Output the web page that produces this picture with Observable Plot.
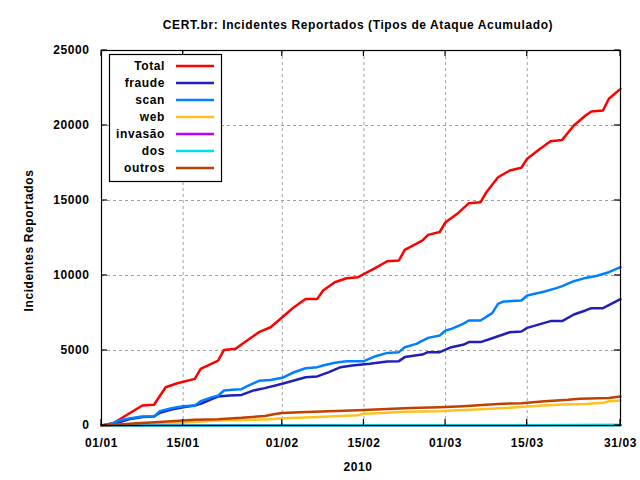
<!DOCTYPE html>
<html><head><meta charset="utf-8">
<script src="https://cdn.jsdelivr.net/npm/d3@7"></script>
<script src="https://cdn.jsdelivr.net/npm/@observablehq/plot@0.6"></script>
<style>body{margin:0;background:#fff} svg{display:block} svg text{letter-spacing:0.6px}</style>
</head><body><div id="chart"></div>
<script>
const titleText = "CERT.br: Incidentes Reportados (Tipos de Ataque Acumulado)";
const yLabel = "Incidentes Reportados";
const xLabel = "2010";
const seriesNames = ["Total", "fraude", "scan", "web", "invasão", "dos", "outros"];
const seriesColors = ["#ff0000", "#2020b8", "#0080ff", "#ffc020", "#c000ff", "#00e0e0", "#c04000"];

// days since 01/01/2010 and cumulative values
const totalDays   = [0,2,7,9,11,13,16,17,20,21,23,24,27,29,31,33,35,37,38,40,42,44,47,49,51,52,55,56,58,59,61,63,65,66,68,70,72,73,75,77,79,81,83,84,86,87,89];
const totalValues = [0,150,1330,1380,2550,2820,3110,3780,4330,5040,5110,5400,6220,6550,7220,7890,8440,8440,9000,9550,9820,9890,10510,10950,11000,11710,12330,12710,12900,13550,14110,14820,14890,15550,16550,17000,17180,17780,18380,18950,19040,20000,20670,20930,21000,21780,22440];

const fraudeDays   = [0,2,3,5,7,9,10,12,14,16,17,19,20,22,24,26,28,31,33,35,37,39,41,43,46,49,51,52,55,56,58,60,62,63,65,67,70,72,73,77,79,81,83,84,86,88,89];
const fraudeValues = [0,50,220,440,560,600,840,1070,1220,1330,1440,1780,1930,2000,2040,2330,2490,2780,3000,3220,3270,3560,3890,4000,4110,4270,4290,4560,4730,4890,4890,5220,5380,5560,5560,5820,6220,6270,6510,6960,6960,7400,7670,7820,7820,8220,8420];

const scanDays   = [0,2,3,5,7,9,10,12,14,16,17,19,20,21,23,24,25,27,29,31,33,35,37,38,40,42,45,47,49,51,52,54,56,58,59,60,62,63,65,67,68,69,72,73,76,78,79,81,83,85,87,89];
const scanValues = [0,150,330,490,600,600,950,1150,1290,1330,1620,1890,1980,2330,2400,2420,2620,2980,3040,3180,3550,3820,3890,4000,4180,4290,4290,4620,4840,4890,5220,5440,5840,6000,6330,6440,6780,7000,7000,7490,8110,8270,8330,8670,8930,9160,9290,9620,9840,9980,10220,10560];

const webDays   = [0,6,8,12,16,18,20,26,29,31,35,40,44,45,48,52,58,60,65,70,73,76,79,83,86,87,89];
const webValues = [0,60,110,150,240,290,330,380,420,480,530,620,690,780,840,910,950,1000,1090,1180,1270,1330,1400,1440,1510,1620,1670];

const invasaoDays   = [0,30,60,89];
const invasaoValues = [0,10,20,30];

const dosDays   = [0,45,89];
const dosValues = [0,10,20];

const outrosDays   = [0,3,6,10,14,16,20,24,28,30,31,34,39,44,48,53,58,62,66,68,72,76,80,82,87,89];
const outrosValues = [0,60,150,240,330,380,420,510,640,780,840,890,950,1020,1090,1160,1220,1290,1380,1440,1490,1620,1710,1780,1840,1930];

const xTickLabels = ["01/01","15/01","01/02","15/02","01/03","15/03","31/03"];
const yTicks = [0,5000,10000,15000,20000,25000];

const start = Date.UTC(2010,0,1);
const dayToDate = d => new Date(start + d*864e5);
const parseTick = s => new Date(Date.UTC(2010, +s.slice(3,5)-1, +s.slice(0,2)));
const xTicks = xTickLabels.map(parseTick);

const seriesData = [
  [totalDays,totalValues],[fraudeDays,fraudeValues],[scanDays,scanValues],
  [webDays,webValues],[invasaoDays,invasaoValues],[dosDays,dosValues],[outrosDays,outrosValues]
];
const rows = [];
seriesData.forEach(([ds,vs],i) => ds.forEach((d,j) => rows.push({series: seriesNames[i], date: dayToDate(d), value: vs[j]})));

const font = "'Liberation Sans', Arial, sans-serif";
const plot = Plot.plot({
  width: 640, height: 480,
  marginLeft: 101, marginRight: 20, marginTop: 50, marginBottom: 55,
  style: {fontFamily: font, fontSize: "12px", fontWeight: "bold", background: "#fff", color: "#000"},
  x: {type: "utc", domain: [dayToDate(0), dayToDate(89)]},
  y: {domain: [0, 25000]},
  color: {domain: seriesNames, range: seriesColors},
  marks: [
    Plot.gridX(xTicks.slice(1,-1), {stroke: "#a0a0a0", strokeOpacity: 1, strokeDasharray: "3,3"}),
    Plot.gridY(yTicks.slice(1,-1), {stroke: "#a0a0a0", strokeOpacity: 1, strokeDasharray: "3,3"}),
    Plot.axisX(xTicks, {tickSize: 0, tickPadding: 13, tickFormat: d3.utcFormat("%d/%m"), label: null, fontWeight: "bold"}),
    Plot.axisY(yTicks, {tickSize: 0, tickPadding: 12, tickFormat: d => String(d), label: null, fontWeight: "bold"}),
    Plot.line(rows, {x: "date", y: "value", z: "series", stroke: "series", strokeWidth: 2.5}),
    Plot.frame({stroke: "#000", strokeWidth: 1.2})
  ]
});
document.getElementById("chart").appendChild(plot);

const svg = d3.select(plot);
const sx = plot.scale("x"), sy = plot.scale("y");
const [x0, x1] = sx.range, [y0, y1] = sy.range; // y0 bottom, y1 top
const tickLen = 6;
const tg = svg.append("g").attr("stroke", "#000").attr("stroke-width", 1.2);
xTicks.forEach(t => {
  const x = sx.apply(t);
  tg.append("line").attr("x1", x).attr("x2", x).attr("y1", y0).attr("y2", y0 - tickLen);
  tg.append("line").attr("x1", x).attr("x2", x).attr("y1", y1).attr("y2", y1 + tickLen);
});
yTicks.forEach(t => {
  const y = sy.apply(t);
  tg.append("line").attr("x1", x0).attr("x2", x0 + tickLen).attr("y1", y).attr("y2", y);
  tg.append("line").attr("x1", x1).attr("x2", x1 - tickLen).attr("y1", y).attr("y2", y);
});

const textStyle = sel => sel.attr("font-family", font).attr("font-weight", "bold").attr("font-size", 12).attr("fill", "#000");
svg.append("text").call(textStyle).attr("x", 358).attr("y", 29).attr("text-anchor", "middle").text(titleText);
svg.append("text").call(textStyle).attr("x", 358).attr("y", 471).attr("text-anchor", "middle").text(xLabel);
svg.append("text").call(textStyle).attr("transform", `translate(33,${(y0 + y1) / 2 + 3}) rotate(-90)`).attr("text-anchor", "middle").text(yLabel);

// legend
const lg = svg.append("g");
lg.append("rect").attr("x", 109.5).attr("y", 54.5).attr("width", 112).attr("height", 127).attr("fill", "#fff").attr("stroke", "#000").attr("stroke-width", 1.2);
seriesNames.forEach((name, i) => {
  const cy = 66 + i * 17;
  lg.append("text").call(textStyle).attr("x", 165).attr("y", cy + 4).attr("text-anchor", "end").text(name);
  lg.append("line").attr("x1", 176).attr("x2", 214).attr("y1", cy).attr("y2", cy).attr("stroke", seriesColors[i]).attr("stroke-width", 2.5);
});
</script>
</body></html>
